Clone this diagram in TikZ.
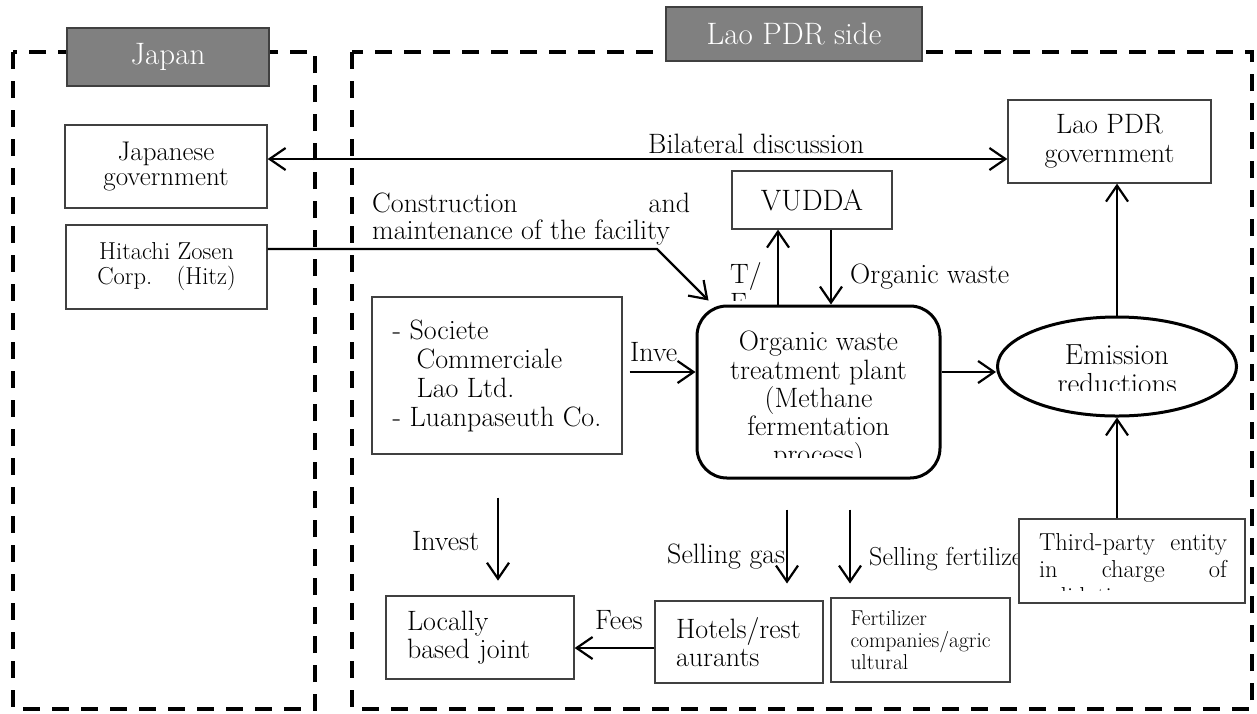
\documentclass[tikz,border=0pt]{standalone}
\usepackage{fontspec}
\usetikzlibrary{arrows.meta, shapes.geometric, calc, positioning}
\hyphenpenalty=10000
\exhyphenpenalty=10000
\tolerance=9999
\lineskiplimit=-30pt

\begin{document}
\begin{tikzpicture}[x=1pt, y=-1pt,
    >={Straight Barb[length=16pt, width=22pt]},
    box/.style={draw=black!75, line width=1.3pt, fill=white, inner sep=0pt, align=center},
    head/.style={draw=black!75, line width=1.3pt, fill=black!50, text=white, inner sep=0pt,
        font=\fontsize{31}{36}\selectfont},
    frame/.style={line width=4pt, dash pattern=on 17pt off 12pt},
    arr/.style={line width=2.2pt, ->},
    fbig/.style={font=\fontsize{28}{28.3}\selectfont},
    fjust/.style={align=justify, inner sep=0pt, font=\fontsize{#1}{27}\selectfont}]
    \useasboundingbox (0,0) rectangle (1257,713);

    % the two sides
    \draw[frame] (13,52) rectangle (315,709);
    \draw[frame] (352,52) rectangle (1252,709);
    \node[head, minimum width=202, minimum height=58] (jphead) at (168,57) {Japan};
    \node[head, minimum width=256, minimum height=54] (laohead) at (794,34) {Lao PDR side};

    % boxes
    \node[box, minimum width=202, minimum height=83, font=\fontsize{27}{25.5}\selectfont] (jgov) at (166,166.5) {Japanese\\government};
    \node[box, minimum width=201, minimum height=84, font=\fontsize{24.5}{25}\selectfont] (hitz) at (166.5,267) {Hitachi Zosen\\Corp.\quad(Hitz)};
    \node[box, minimum width=203, minimum height=83, font=\fontsize{28}{29}\selectfont] (lgov) at (1109.5,141.5) {Lao PDR\\government};
    \node[box, minimum width=160, minimum height=58, font=\fontsize{29.5}{30}\selectfont] (vudda) at (812,200) {VUDDA};
    \node[box, minimum width=250, minimum height=157, align=left, font=\fontsize{28}{29}\selectfont] (soc) at (497,375.5)
        {- Societe\\\hspace*{24pt}Commerciale\\\hspace*{24pt}Lao Ltd.\\- Luanpaseuth Co.};
    \node[box, minimum width=188, minimum height=83, text width=146, align=left, fbig] (ljv) at (480,637.5) {Locally\\based joint};
    \node[box, minimum width=168, minimum height=82, text width=126, align=left, fbig] (hotel) at (739,642) {Hotels/rest\\aurants};
    \node[box, minimum width=179, minimum height=84, text width=140, align=left, font=\fontsize{21.5}{22}\selectfont] (fert) at (920.5,640)
        {Fertilizer\\companies/agric\\ultural};

    % plant and emissions
    \node[draw, line width=3pt, rounded corners=30pt, minimum width=243, minimum height=172, inner sep=0pt] (plant) at (818.5,392) {};
    \node[draw, ellipse, line width=3pt, minimum width=239, minimum height=99, inner sep=0pt] (emis) at (1117,366.5) {};
    \begin{scope}
        \clip (700,310) rectangle (937,457);
        \node[anchor=north, inner sep=0pt, align=center, fbig] (planttxt) at (818.5,331)
            {Organic waste\\treatment plant\\(Methane\\fermentation\\process)};
    \end{scope}
    \begin{scope}
        \clip (1000,320) rectangle (1235,390);
        \node[anchor=north, inner sep=0pt, align=center, font=\fontsize{29}{29}\selectfont] (emistxt) at (1117,345) {Emission\\reductions};
    \end{scope}

    % labels
    \node[anchor=base west, inner sep=0pt, fbig] (bilab) at (648,153) {Bilateral discussion};
    \node[anchor=north west, text width=318, fjust=28] (conlab) at (372,192.5) {Construction and maintenance of the facility};
    \begin{scope}
        \clip (725,255) rectangle (776,300);
        \node[anchor=north west, inner sep=0pt, align=left, font=\fontsize{28}{29}\selectfont] (tflab) at (730,262) {T/\\F};
    \end{scope}
    \node[anchor=base west, inner sep=0pt, fbig] (owlab) at (850,283) {Organic waste};
    \node[anchor=base west, inner sep=0pt, fbig] (invlab) at (630,361) {Inve};
    \node[anchor=base west, inner sep=0pt, fbig] (ivdlab) at (412,550) {Invest};
    \node[anchor=base west, inner sep=0pt, fbig] (gaslab) at (667,563) {Selling gas};
    \node[anchor=base west, inner sep=0pt, font=\fontsize{26}{28}\selectfont] (fzlab) at (869,565) {Selling fertilizer};
    \node[anchor=base west, inner sep=0pt, fbig] (feelab) at (595,629) {Fees};

    % third party covers the end of the label
    \node[box, minimum width=226, minimum height=84] (tpe) at (1132,561) {};
    \begin{scope}
        \clip (1022,522) rectangle (1242,590);
        \node[anchor=north, text width=188, fjust=24.5] (tpetxt) at (1133,533) {Third-party entity in charge of validation};
    \end{scope}

    % connectors
    \coordinate (bl) at ([yshift=7.5pt]jgov.east);
    \draw[line width=2.2pt, <->] (bl) -- (bl -| lgov.west);
    \coordinate (hz) at ([yshift=18pt]hitz.east);
    \draw[arr] (hz) -- (hz -| 657,0) -- ([shift={(13pt,4pt)}]plant.north west);
    \coordinate (vu1) at ([xshift=-34pt]vudda.south);
    \coordinate (vu2) at ([xshift=19pt]vudda.south);
    \draw[arr] (vu1 |- plant.north) -- (vu1);
    \draw[arr] (vu2) -- (vu2 |- plant.north);
    \coordinate (iv) at ([shift={(7pt,3.5pt)}]soc.east);
    \draw[arr] (iv) -- (iv -| plant.west);
    \coordinate (pe) at ([yshift=20pt]plant.east);
    \draw[arr] (pe) -- (pe -| emis.west);
    \draw[arr] (emis.north) -- (emis.north |- lgov.south);
    \draw[arr] (tpe.north -| emis.south) -- (emis.south);
    \draw[arr] (soc.south) ++(1,43) -- ++(0,83);
    \draw[arr] (plant.south) ++(-31.5,30) -- ++(0,74);
    \draw[arr] (plant.south) ++(31.5,30) -- ++(0,74);
    \coordinate (fe) at ([yshift=-6pt]hotel.west);
    \draw[arr] (fe) -- (fe -| ljv.east);
\end{tikzpicture}
\end{document}
